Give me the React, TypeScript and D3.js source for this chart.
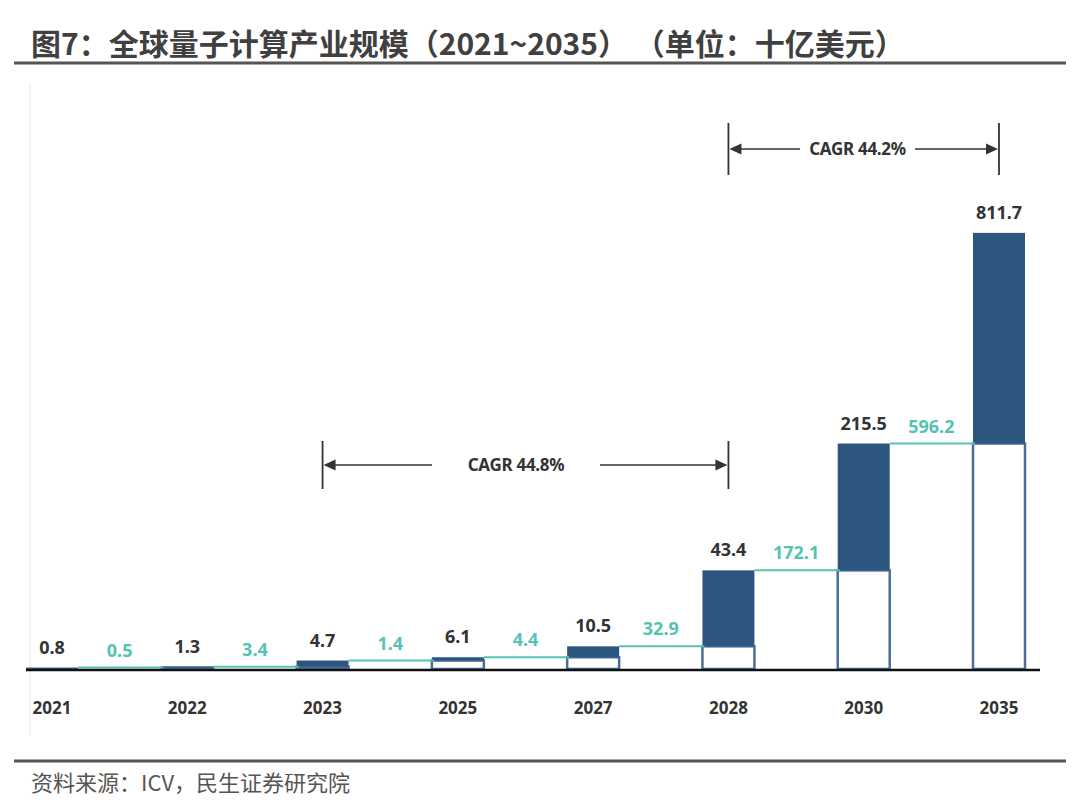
import React from 'react';
import * as d3 from 'd3';

// chart values (十亿美元)
const years = ['2021', '2022', '2023', '2025', '2027', '2028', '2030', '2035'];
const totals = [0.8, 1.3, 4.7, 6.1, 10.5, 43.4, 215.5, 811.7];
const increments = [0.5, 3.4, 1.4, 4.4, 32.9, 172.1, 596.2];
const cagrFrom = ['2023', '2028'];
const cagrTo = ['2028', '2035'];
const cagrLabels = ['CAGR 44.8%', 'CAGR 44.2%'];

const W = 1080;
const H = 805;
const baseY = 669;
const barW = 52;
const cagrY = [465, 149];
const cagrTick = [24, 26];
const cagrGap = [[432, 600], [800, 915]];

const DARK = '#2c5680';
const TEAL = '#55c3b3';
const TEXT = '#333333';
const CJK = '"Noto Sans CJK SC", "Noto Sans", sans-serif';
const SANS = '"Noto Sans", "Open Sans", sans-serif';

// the original is not drawn to a single linear scale, so use a piecewise one
const y = d3.scaleLinear().domain([0, 5, 40, 200, 800]).range([baseY, 660, 573, 449, 237]);
const x = d3.scalePoint().domain(years).range([52, 999]);

const Arrow = ({ x1, x2, yy, gap, label, tick }) => {
  const ah = 11;
  return (
    <g stroke={TEXT} fill={TEXT}>
      <line x1={x1} x2={x1} y1={yy - tick} y2={yy + tick} strokeWidth={1.8} />
      <line x1={x2} x2={x2} y1={yy - tick} y2={yy + tick} strokeWidth={1.8} />
      <line x1={x1 + ah} x2={gap[0]} y1={yy} y2={yy} strokeWidth={1.4} />
      <line x1={gap[1]} x2={x2 - ah} y1={yy} y2={yy} strokeWidth={1.4} />
      <path d={`M${x1 + 1},${yy}L${x1 + ah + 2},${yy - 5.5}L${x1 + ah + 2},${yy + 5.5}Z`} stroke="none" />
      <path d={`M${x2 - 1},${yy}L${x2 - ah - 2},${yy - 5.5}L${x2 - ah - 2},${yy + 5.5}Z`} stroke="none" />
      <text
        x={(gap[0] + gap[1]) / 2}
        y={yy + 6}
        textAnchor="middle"
        stroke="none"
        fontFamily={SANS}
        fontWeight="bold"
        fontSize={17}
        letterSpacing={-0.3}
      >
        {label}
      </text>
    </g>
  );
};

export default function App() {
  return (
    <svg
      width={W}
      height={H}
      style={{ position: 'absolute', left: 0, top: 0, background: '#fff' }}
    >
      <text x={31} y={55} fontFamily={CJK} fontWeight="bold" fontSize={30} fill="#404040">
        图7：全球量子计算产业规模（2021~2035） （单位：十亿美元）
      </text>
      <line x1={14} x2={1066} y1={63} y2={63} stroke="#555" strokeWidth={3} />

      {/* faint left frame line */}
      <line x1={30} x2={30} y1={84} y2={736} stroke="#eeeeee" strokeWidth={1.5} />

      {/* bars */}
      {years.map((yr, i) => {
        const cx = x(yr);
        const prev = i === 0 ? 0 : totals[i - 1];
        return (
          <g key={yr}>
            {prev > 0 && (
              <rect
                x={cx - barW / 2}
                y={y(prev)}
                width={barW}
                height={baseY - y(prev)}
                fill="#fff"
                stroke="#4a6e96"
                strokeWidth={2.5}
              />
            )}
            <rect
              x={cx - barW / 2}
              y={y(totals[i])}
              width={barW}
              height={y(prev) - y(totals[i])}
              fill={DARK}
            />
            <text
              x={cx}
              y={y(totals[i]) - 14}
              textAnchor="middle"
              fontFamily={SANS}
              fontWeight="bold"
              fontSize={18}
              fill={TEXT}
            >
              {totals[i].toFixed(1)}
            </text>
            <text
              x={cx}
              y={714}
              textAnchor="middle"
              fontFamily={SANS}
              fontWeight="bold"
              fontSize={17}
              fill={TEXT}
            >
              {yr}
            </text>
          </g>
        );
      })}

      {/* increments between bars */}
      {increments.map((inc, i) => {
        const xa = x(years[i]) + barW / 2;
        const xb = x(years[i + 1]) - barW / 2;
        const ly = y(totals[i]);
        return (
          <g key={'inc' + i}>
            <line x1={xa} x2={xb + 2} y1={ly} y2={ly} stroke={TEAL} strokeWidth={2} />
            <text
              x={(xa + xb) / 2}
              y={ly - 11}
              textAnchor="middle"
              fontFamily={SANS}
              fontWeight="bold"
              fontSize={18}
              fill={TEAL}
            >
              {inc.toFixed(1)}
            </text>
          </g>
        );
      })}

      <line x1={26} x2={1040} y1={baseY + 1} y2={baseY + 1} stroke="#111" strokeWidth={2.5} />

      {cagrLabels.map((lab, i) => (
        <Arrow
          key={lab}
          x1={x(cagrFrom[i])}
          x2={x(cagrTo[i])}
          yy={cagrY[i]}
          gap={cagrGap[i]}
          tick={cagrTick[i]}
          label={lab}
        />
      ))}

      <line x1={14} x2={1066} y1={761} y2={761} stroke="#555" strokeWidth={3} />
      <text x={31} y={791} fontFamily={CJK} fontSize={22} fill="#555">
        资料来源：ICV，民生证券研究院
      </text>
    </svg>
  );
}
